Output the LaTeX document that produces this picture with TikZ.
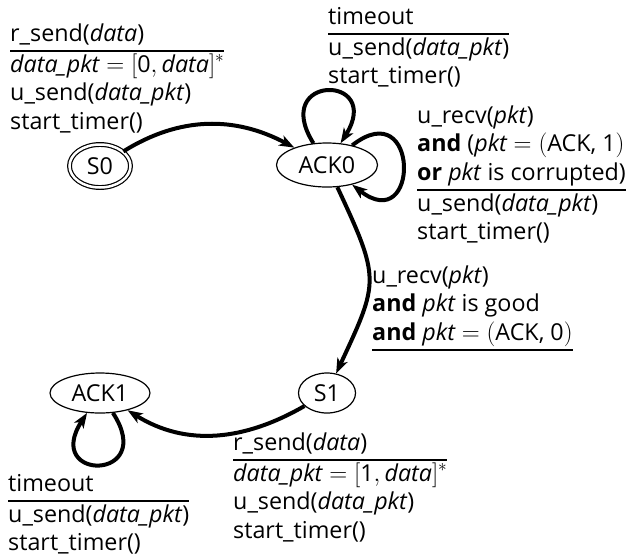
\documentclass[tikz,border=0pt]{standalone}
\usepackage{amsmath,amssymb}
\usepackage{fontspec}
\setmainfont{Open Sans}
\usepackage{tikz}
\usetikzlibrary{arrows.meta,shapes.geometric}
\setlength{\arrayrulewidth}{2.5pt}

\begin{document}
\begin{tikzpicture}[x=1pt,y=-1pt,every node/.style={font=\fontsize{23.3}{28.5}\selectfont},
  state/.style={draw,ellipse,line width=1.2pt,inner sep=0pt},
  trans/.style={line width=4pt,-{Stealth[length=15pt,width=11pt,inset=4pt]}},
  lbl/.style={anchor=base west,inner sep=0pt}]
\useasboundingbox (0,0) rectangle (631,555);
% states
\node[state,double,double distance=2.5pt,minimum width=61pt,minimum height=43pt] (s0) at (100,166) {S0};
\node[state,minimum width=101pt,minimum height=44pt] (ack0) at (327,165) {ACK0};
\node[state,minimum width=57pt,minimum height=40pt] (s1) at (327,393) {S1};
\node[state,minimum width=100pt,minimum height=40pt] (ack1) at (100,393) {ACK1};
% transitions
\draw[trans] (s0) to[out=32,in=152] (ack0);
\draw[trans] (ack0) to[out=122,in=58,min distance=82pt] (ack0);
\draw[trans] (ack0) to[out=38,in=-38,min distance=86pt] (ack0);
\draw[trans] (ack0) to[out=-65,in=65,looseness=1.4] (s1);
\draw[trans] (s1) to[out=-150,in=-32] (ack1);
\draw[trans] (ack1) to[out=-57,in=-123,min distance=82pt] (ack1);
% labels
\node[lbl] (lsend0) at (10,41) {\begin{tabular}[t]{@{}l@{}}
  r\_send(\textit{data}) \\ \hline
  $\textit{data\_pkt} = [\text{0}, \textit{data}]^*$ \\
  u\_send(\textit{data\_pkt}) \\
  start\_timer()
\end{tabular}};
\node[lbl] (ltime0) at (328,24) {\begin{tabular}[t]{@{}l@{}}
  timeout \\ \hline
  u\_send(\textit{data\_pkt}) \\
  start\_timer()
\end{tabular}};
\node[lbl] (lbad0) at (417,123) {\begin{tabular}[t]{@{}l@{}}
  u\_recv(\textit{pkt}) \\
  \textbf{and} ($\textit{pkt} = (\text{ACK, 1})$ \\
  \textbf{or} \textit{pkt} is corrupted) \\ \hline
  u\_send(\textit{data\_pkt}) \\
  start\_timer()
\end{tabular}};
\node[lbl] (lgood0) at (372,283) {\begin{tabular}[t]{@{}l@{}}
  u\_recv(\textit{pkt}) \\
  \textbf{and} \textit{pkt} is good \\
  \textbf{and} $\textit{pkt} = (\text{ACK, 0})$ \\ \hline
\end{tabular}};
\node[lbl] (lsend1) at (233,450) {\begin{tabular}[t]{@{}l@{}}
  r\_send(\textit{data}) \\ \hline
  $\textit{data\_pkt} = [\text{1}, \textit{data}]^*$ \\
  u\_send(\textit{data\_pkt}) \\
  start\_timer()
\end{tabular}};
\node[lbl] (ltime1) at (8,491) {\begin{tabular}[t]{@{}l@{}}
  timeout \\ \hline
  u\_send(\textit{data\_pkt}) \\
  start\_timer()
\end{tabular}};
\end{tikzpicture}
\end{document}
